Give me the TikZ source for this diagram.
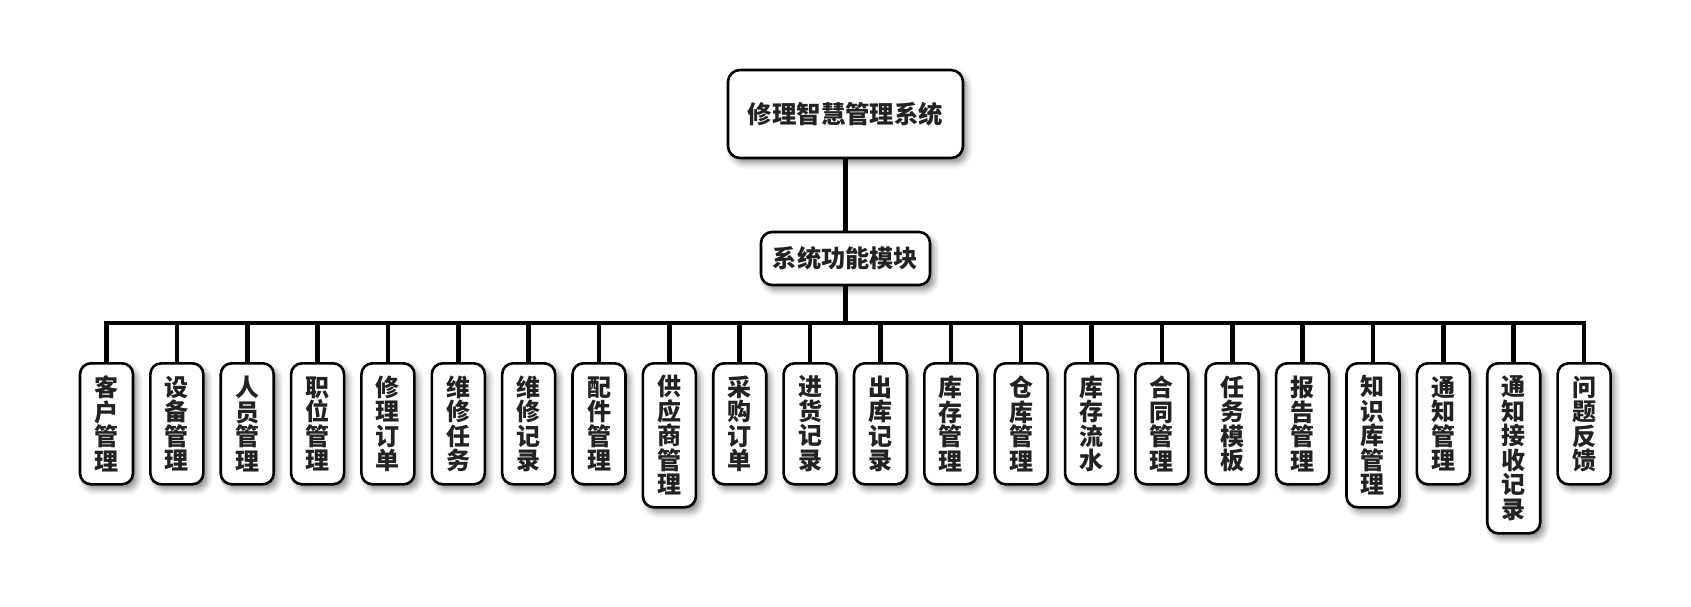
\documentclass[tikz,border=0pt]{standalone}
\usepackage{fontspec}
\newfontfamily\cjk{Noto Sans CJK SC}
\usetikzlibrary{shadows.blur}
\definecolor{txt}{HTML}{222222}
\tikzset{
  box/.style={draw=black, line width=2.6pt, fill=white, rounded corners=11pt,
    blur shadow={shadow xshift=4pt, shadow yshift=-5pt, shadow blur radius=6pt, shadow opacity=45},
    font=\cjk\bfseries, text=txt, align=center},
  leaf/.style={box, anchor=north, minimum width=53pt, inner sep=0pt,
    font=\cjk\bfseries\fontsize{24}{24.5}\selectfont},
  conn/.style={line width=4.6pt, draw=black},
}
\begin{document}
\begin{tikzpicture}[x=1pt,y=-1pt]
\useasboundingbox (0,0) rectangle (1691,607);
\node[box, minimum width=235pt, minimum height=88pt, font=\cjk\bfseries\fontsize{24.4}{26}\selectfont, rounded corners=12pt] (root) at (845.5,114) {修理智慧管理系统};
\node[box, minimum width=169pt, minimum height=53pt, font=\cjk\bfseries\fontsize{24.2}{26}\selectfont] (mod) at (845.5,258.5) {系统功能模块};
\coordinate (bus) at (845.5,323);
\draw[conn] (root.south) -- (mod.north);
\draw[conn] (mod.south) -- (bus);
\foreach \lab/\h [count=\i from 0] in {
  客\\户\\管\\理/121, 设\\备\\管\\理/121, 人\\员\\管\\理/121, 职\\位\\管\\理/121,
  修\\理\\订\\单/121, 维\\修\\任\\务/121, 维\\修\\记\\录/121, 配\\件\\管\\理/121,
  供\\应\\商\\管\\理/144, 采\\购\\订\\单/121, 进\\货\\记\\录/121, 出\\库\\记\\录/121,
  库\\存\\管\\理/121, 仓\\库\\管\\理/121, 库\\存\\流\\水/121, 合\\同\\管\\理/121,
  任\\务\\模\\板/121, 报\\告\\管\\理/121, 知\\识\\库\\管\\理/144, 通\\知\\管\\理/121,
  通\\知\\接\\收\\记\\录/170, 问\\题\\反\\馈/121}{
  \pgfmathsetmacro{\xx}{106.5+\i*70.36}
  \node[leaf, minimum height=\h pt] (c\i) at (\xx,362) {\lab};
  \coordinate (t\i) at (\xx,323);
}
\draw[conn, line cap=rect] (t0) -- (t21);
\foreach \i in {0,...,21}{
  \draw[conn] (t\i) -- (c\i.north);
}
\end{tikzpicture}
\end{document}
